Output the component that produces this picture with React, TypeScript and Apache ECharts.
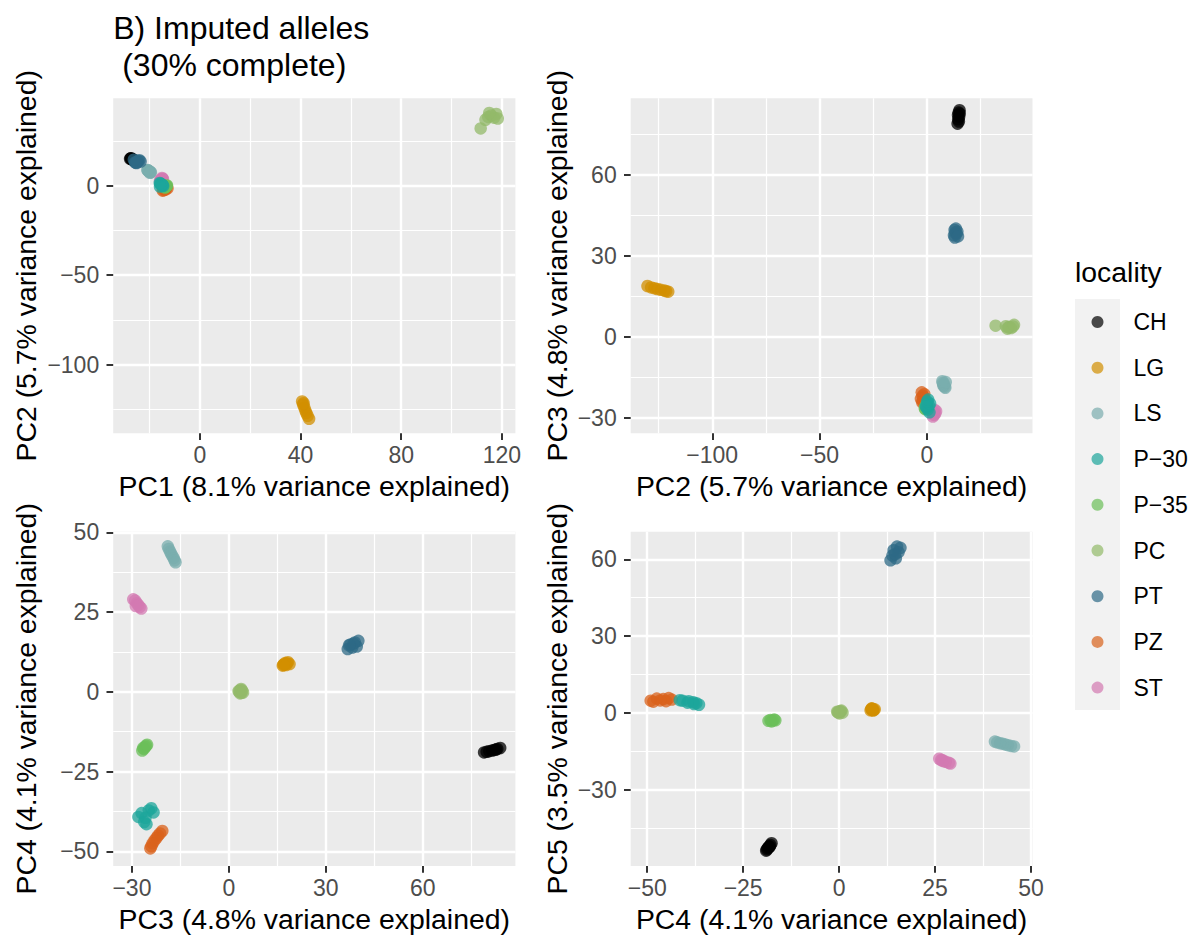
import React, { useEffect, useRef } from 'react';
import * as echarts from 'echarts';

const FONT = '"Liberation Sans", Arial, Helvetica, sans-serif';

// Locality names in legend order
const LOCALITIES = ['CH', 'LG', 'LS', 'P\u221230', 'P\u221235', 'PC', 'PT', 'PZ', 'ST'];
// Plotting order (later entries sit on top)
const DRAW_ORDER = ['CH', 'LG', 'LS', 'PZ', 'ST', 'P\u221235', 'P\u221230', 'PC', 'PT'];

const COLORS: Record<string, string> = {
  CH: '#000000',
  LG: '#D18F00',
  LS: '#7AADAE',
  'P\u221230': '#1CA59B',
  'P\u221235': '#6BBF59',
  PC: '#93BA6A',
  PT: '#2E6A86',
  PZ: '#D9621B',
  ST: '#D379B1',
};

// Sample scores per locality: [PC1, PC2, PC3, PC4, PC5]
const CH_SCORES = [
  [-27.5, 15.2, 84.0, -17.6, -50.9],
  [-27.0, 14.8, 83.1, -17.9, -51.6],
  [-26.6, 14.5, 82.2, -18.2, -52.1],
  [-27.8, 15.0, 81.5, -18.4, -52.5],
  [-26.9, 14.6, 80.6, -18.6, -52.9],
  [-27.2, 14.9, 79.8, -18.8, -53.4],
  [-26.5, 14.3, 79.0, -19.0, -53.8],
  [-27.4, 15.3, 82.7, -18.1, -52.3],
];
const LG_SCORES = [
  [40.6, -120.5, 16.7, 8.2, 1.0],
  [41.0, -122.3, 17.1, 8.6, 1.6],
  [41.5, -124.0, 17.4, 9.0, 1.2],
  [41.9, -125.6, 17.7, 8.4, 1.5],
  [42.3, -127.0, 18.0, 8.9, 0.9],
  [42.8, -128.5, 18.3, 9.3, 1.4],
  [43.4, -130.2, 18.8, 8.7, 1.1],
  [41.2, -121.5, 16.9, 8.5, 1.8],
];
const LS_SCORES = [
  [-20.8, 8.6, -18.9, 45.6, -13.1],
  [-20.5, 8.3, -18.6, 44.8, -12.9],
  [-20.0, 7.9, -18.2, 44.0, -12.6],
  [-19.7, 7.6, -17.9, 43.3, -12.3],
  [-20.3, 8.0, -17.5, 42.6, -12.0],
  [-19.5, 7.4, -17.1, 41.9, -11.8],
  [-20.9, 8.8, -16.8, 41.2, -11.5],
  [-19.9, 7.2, -16.5, 40.6, -11.2],
];
const P30_SCORES = [
  [-15.8, 1.2, -28.0, -39.2, 4.6],
  [-15.0, 0.4, -27.0, -38.0, 4.2],
  [-14.6, -0.2, -26.2, -40.8, 4.8],
  [-15.5, 0.9, -25.5, -41.5, 5.0],
  [-16.0, 1.5, -24.8, -37.2, 3.8],
  [-14.8, 0.1, -24.0, -36.5, 3.2],
  [-15.2, 0.6, -23.3, -37.8, 3.5],
  [-15.9, -0.5, -25.8, -39.5, 4.0],
];
const P35_SCORES = [
  [-13.8, -0.8, -26.8, -18.4, -3.1],
  [-13.4, -0.3, -26.3, -17.9, -2.8],
  [-13.1, 0.1, -25.9, -17.3, -3.0],
  [-13.6, -0.6, -25.6, -16.9, -2.6],
  [-13.9, -1.0, -26.5, -17.6, -3.3],
  [-13.2, -0.1, -25.3, -16.6, -2.9],
];
const PC_SCORES = [
  [111.6, 32.0, 4.1, 0.4, 0.6],
  [113.5, 36.8, 3.9, -0.3, 0.2],
  [114.6, 38.4, 3.6, 0.6, 0.9],
  [115.8, 39.2, 3.2, 0.1, -0.2],
  [116.9, 38.0, 3.5, -0.5, 0.5],
  [117.8, 40.1, 3.8, 0.9, 0.1],
  [118.4, 37.5, 3.0, 0.2, 0.7],
  [115.0, 40.6, 4.4, -0.2, 0.3],
];
const PT_SCORES = [
  [-25.8, 13.0, 36.8, 13.4, 59.6],
  [-25.2, 12.6, 37.6, 14.8, 60.4],
  [-24.6, 13.8, 38.2, 13.9, 61.5],
  [-24.1, 14.2, 39.0, 15.5, 62.8],
  [-25.5, 12.9, 39.6, 14.2, 63.6],
  [-23.6, 13.5, 40.1, 16.0, 64.5],
  [-24.9, 13.2, 38.6, 15.1, 65.0],
  [-26.3, 14.5, 37.2, 14.6, 62.0],
];
const PZ_SCORES = [
  [-14.5, -2.4, -20.6, -43.6, 5.2],
  [-13.6, -1.2, -21.3, -44.4, 5.8],
  [-14.0, -2.0, -21.9, -45.1, 4.6],
  [-12.9, -1.5, -22.4, -45.8, 5.4],
  [-14.8, -2.8, -23.0, -46.6, 4.9],
  [-13.3, -0.9, -23.6, -47.5, 5.6],
  [-14.2, -1.8, -24.0, -48.4, 4.4],
  [-13.7, -2.2, -24.3, -49.1, 4.8],
];
const ST_SCORES = [
  [-15.9, 2.8, -29.6, 29.0, -19.8],
  [-15.4, 3.4, -29.0, 28.6, -19.5],
  [-14.9, 3.9, -28.5, 27.8, -19.1],
  [-15.6, 3.1, -28.0, 27.2, -18.8],
  [-15.1, 4.3, -27.6, 26.6, -18.4],
  [-14.7, 3.6, -27.1, 26.1, -17.9],
  [-15.3, 2.9, -28.8, 26.9, -18.5],
];

const SCORES: Record<string, number[][]> = {
  CH: CH_SCORES,
  LG: LG_SCORES,
  LS: LS_SCORES,
  'P\u221230': P30_SCORES,
  'P\u221235': P35_SCORES,
  PC: PC_SCORES,
  PT: PT_SCORES,
  PZ: PZ_SCORES,
  ST: ST_SCORES,
};

const AXIS_TITLES = [
  'PC1 (8.1% variance explained)',
  'PC2 (5.7% variance explained)',
  'PC3 (4.8% variance explained)',
  'PC4 (4.1% variance explained)',
  'PC5 (3.5% variance explained)',
];

// Tick labels of each panel
const P1_X_TICKS = [0, 40, 80, 120];
const P1_Y_TICKS = [-100, -50, 0];
const P2_X_TICKS = [-100, -50, 0];
const P2_Y_TICKS = [-30, 0, 30, 60];
const P3_X_TICKS = [-30, 0, 30, 60];
const P3_Y_TICKS = [-50, -25, 0, 25, 50];
const P4_X_TICKS = [-50, -25, 0, 25, 50];
const P4_Y_TICKS = [-30, 0, 30, 60];

// Panel layout: which PCs, pixel box, axis extents
const PANELS = [
  { xPC: 0, yPC: 1, left: 113.2, top: 98.3, width: 402.2, height: 335, xMin: -34.5, xMax: 125.4, yMin: -138.3, yMax: 48.8, xStep: 40, yStep: 50, xTicks: P1_X_TICKS, yTicks: P1_Y_TICKS },
  { xPC: 1, yPC: 2, left: 630.7, top: 98.3, width: 401.8, height: 335, xMin: -138.0, xMax: 49.2, yMin: -35.8, yMax: 88.4, xStep: 50, yStep: 30, xTicks: P2_X_TICKS, yTicks: P2_Y_TICKS },
  { xPC: 2, yPC: 3, left: 113.2, top: 531.7, width: 402.2, height: 334.3, xMin: -35.8, xMax: 88.7, yMin: -54.6, yMax: 50.2, xStep: 30, yStep: 25, xTicks: P3_X_TICKS, yTicks: P3_Y_TICKS },
  { xPC: 3, yPC: 4, left: 630.7, top: 531.7, width: 401.8, height: 334.3, xMin: -54.3, xMax: 50.4, yMin: -59.8, yMax: 70.8, xStep: 25, yStep: 30, xTicks: P4_X_TICKS, yTicks: P4_Y_TICKS },
];

const fmt = (v: number) => String(v).replace('-', '\u2212');

function axisOption(min: number, max: number, step: number, ticks: number[], isX: boolean, gridIndex: number) {
  return {
    type: 'value',
    gridIndex,
    min,
    max,
    minInterval: step,
    maxInterval: step,
    axisLine: { show: false, onZero: false },
    axisTick: { show: true, length: 6.7, customValues: ticks, lineStyle: { color: '#333333', width: 2 } },
    axisLabel: {
      show: true,
      customValues: ticks,
      formatter: (v: number) => fmt(v),
      color: '#4D4D4D',
      fontSize: 23,
      fontFamily: FONT,
      margin: isX ? 10 : 14,
    },
    splitLine: { show: true, lineStyle: { color: '#FFFFFF', width: 2.4 } },
    minorTick: { show: false, splitNumber: 2 },
    minorSplitLine: { show: true, lineStyle: { color: '#FFFFFF', width: 1.2 } },
  };
}

export default function App() {
  const ref = useRef<HTMLDivElement>(null);

  useEffect(() => {
    if (!ref.current) return;
    const chart = echarts.init(ref.current, undefined, { renderer: 'svg' });

    const grids = PANELS.map((p) => ({
      left: p.left,
      top: p.top,
      width: p.width,
      height: p.height,
      show: true,
      backgroundColor: '#EBEBEB',
      borderWidth: 0,
      containLabel: false,
    }));
    const xAxes = PANELS.map((p, i) => axisOption(p.xMin, p.xMax, p.xStep, p.xTicks, true, i));
    const yAxes = PANELS.map((p, i) => axisOption(p.yMin, p.yMax, p.yStep, p.yTicks, false, i));

    const series: any[] = [];
    PANELS.forEach((p, i) => {
      DRAW_ORDER.forEach((loc) => {
        series.push({
          type: 'scatter',
          name: loc,
          xAxisIndex: i,
          yAxisIndex: i,
          symbol: 'circle',
          symbolSize: 12.5,
          itemStyle: { color: COLORS[loc], opacity: 0.75, borderWidth: 0 },
          emphasis: { disabled: true },
          data: SCORES[loc].map((s) => [s[p.xPC], s[p.yPC]]),
        });
      });
    });

    const titleStyle = { fontSize: 28.4, fontFamily: FONT, fill: '#000000' };
    const plotTitleStyle = { fontSize: 32, fontFamily: FONT, fill: '#000000', align: 'left', verticalAlign: 'middle' };
    const graphic: any[] = [
      { type: 'text', x: 113.2, y: 28, style: { text: 'B) Imputed alleles', ...plotTitleStyle } },
      { type: 'text', x: 122.2, y: 65, style: { text: '(30% complete)', ...plotTitleStyle } },
      { type: 'text', x: 1075, y: 272, style: { text: 'locality', ...titleStyle, align: 'left', verticalAlign: 'middle' } },
      { type: 'rect', shape: { x: 1075, y: 299, width: 45, height: 411 }, style: { fill: '#F2F2F2' }, z: -1 },
    ];
    const xTitleY = [486.3, 486.3, 919, 919];
    const yTitleX = [26, 557, 26, 557];
    PANELS.forEach((p, i) => {
      graphic.push({
        type: 'text',
        x: p.left + p.width / 2,
        y: xTitleY[i],
        style: { text: AXIS_TITLES[p.xPC], ...titleStyle, align: 'center', verticalAlign: 'middle' },
      });
      graphic.push({
        type: 'text',
        x: yTitleX[i],
        y: p.top + p.height / 2,
        rotation: Math.PI / 2,
        style: { text: AXIS_TITLES[p.yPC], ...titleStyle, align: 'center', verticalAlign: 'middle' },
      });
    });

    chart.setOption({
      animation: false,
      backgroundColor: '#FFFFFF',
      textStyle: { fontFamily: FONT },
      grid: grids,
      xAxis: xAxes,
      yAxis: yAxes,
      series,
      legend: {
        data: LOCALITIES,
        orient: 'vertical',
        left: 1091.5,
        top: 309,
        padding: 0,
        itemWidth: 12,
        itemHeight: 12,
        itemGap: 19.7,
        icon: 'circle',
        selectedMode: false,
        itemStyle: { opacity: 0.7 },
        textStyle: { fontSize: 23, color: '#000000', fontFamily: FONT, lineHeight: 26, padding: [0, 0, 0, 25] },
      },
      graphic,
    });

    return () => chart.dispose();
  }, []);

  return (
    <div
      ref={ref}
      style={{ position: 'fixed', left: 0, top: 0, width: 1195, height: 939, background: '#FFFFFF' }}
    />
  );
}
